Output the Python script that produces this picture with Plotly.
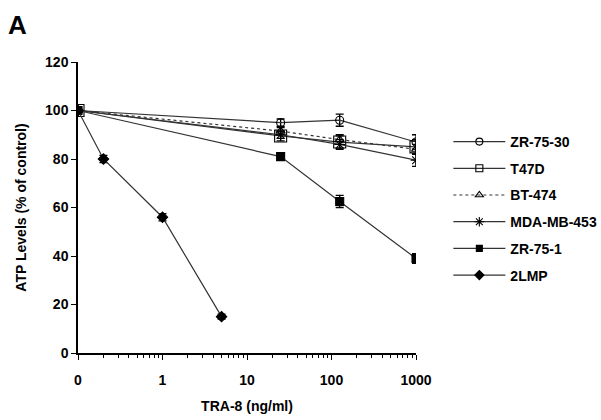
import plotly.graph_objects as go

# ---- data ----
ZERO_POS = 0.1  # where dose "0" is drawn on the log axis
doses = [0, 25, 125, 1000]
doses_2lmp = [0, 0.2, 1, 5]

series_names = ["ZR-75-30", "T47D", "BT-474", "MDA-MB-453", "ZR-75-1", "2LMP"]
zr7530 = [100, 95, 96, 87]
zr7530_err = [1, 1.5, 2.5, 3]
t47d = [100, 89.5, 87, 85]
t47d_err = [1.5, 2, 2.5, 3]
bt474 = [100, 91.5, 88, 84]
bt474_err = [1, 1.5, 2, 2]
mda453 = [100, 90, 86, 79.5]
mda453_err = [1, 1.5, 2, 2.5]
zr751 = [100, 81, 62.5, 39]
zr751_err = [1, 1.5, 2.5, 2]
lmp2 = [100, 80, 56, 15]
lmp2_err = [1, 1.5, 1.5, 1]

x_tick_vals = [0.1, 1, 10, 100, 1000]
x_tick_text = ["0", "1", "10", "100", "1000"]
y_tick_vals = [0, 20, 40, 60, 80, 100, 120]


def pos(xs):
    return [ZERO_POS if v == 0 else v for v in xs]


FONT = "Liberation Sans"
fig = go.Figure()

specs = [
    ("ZR-75-30", doses, zr7530, zr7530_err, "circle-open", 8, 7, "solid"),
    ("T47D", doses, t47d, t47d_err, "square-open", 12, 7, "solid"),
    ("BT-474", doses, bt474, bt474_err, "triangle-up-open", 8, 7, "dot"),
    ("MDA-MB-453", doses, mda453, mda453_err, "asterisk-open", 9, 8, "solid"),
    ("ZR-75-1", doses, zr751, zr751_err, "square", 8, 6, "solid"),
    ("2LMP", doses_2lmp, lmp2, lmp2_err, "diamond", 8, 7, "solid"),
]

for i, (name, xs, ys, es, sym, sz, lsz, dash) in enumerate(specs):
    fig.add_trace(go.Scatter(
        x=pos(xs), y=ys, name=name, mode="lines+markers",
        legendgroup=f"g{i}", showlegend=False,
        line=dict(color="#333333", width=1.2, dash=dash),
        marker=dict(symbol=sym, size=sz, color="black",
                    line=dict(color="black", width=1.1)),
        error_y=dict(type="data", array=es, visible=True, color="black",
                     thickness=1.3, width=4),
    ))
    # legend entry with smaller symbol
    fig.add_trace(go.Scatter(
        x=[None], y=[None], name=name, mode="lines+markers",
        legendgroup=f"g{i}", showlegend=True,
        line=dict(color="#333333", width=1.2, dash=dash),
        marker=dict(symbol=sym, size=lsz, color="black",
                    line=dict(color="black", width=1.1)),
    ))

fig.update_layout(
    width=601, height=420,
    margin=dict(l=78, r=185, t=62, b=67),
    paper_bgcolor="white", plot_bgcolor="white",
    font=dict(family=FONT, size=14, color="black"),
    showlegend=True,
    legend=dict(xref="container", yref="container", x=0.746, y=0.70,
                xanchor="left", yanchor="top",
                font=dict(family=FONT, size=14, color="black", weight="bold"),
                itemwidth=52, tracegroupgap=5.5, bgcolor="rgba(0,0,0,0)"),
    xaxis=dict(
        type="log", range=[-1, 3], showgrid=False, zeroline=False,
        showline=True, linecolor="black", linewidth=1.5, automargin=False,
        tickmode="array", tickvals=x_tick_vals, ticktext=x_tick_text,
        ticks="outside", ticklen=5, tickcolor="black", ticklabelstandoff=8,
        tickfont=dict(family=FONT, size=14, weight="bold"),
        minor=dict(ticks="outside", ticklen=3, tickcolor="black", showgrid=False,
                   tickmode="array",
                   tickvals=[m * 10 ** e for e in range(-1, 3) for m in range(2, 10)]),
        title=dict(text="TRA-8 (ng/ml)", font=dict(family=FONT, size=14, weight="bold")),
    ),
    yaxis=dict(
        range=[0, 120], showgrid=False, zeroline=False,
        showline=True, linecolor="black", linewidth=1.5, automargin=False,
        tickmode="array", tickvals=y_tick_vals,
        ticks="outside", ticklen=5, tickcolor="black",
        tickfont=dict(family=FONT, size=14, weight="bold"),
        title=dict(text="ATP Levels (% of control)",
                   font=dict(family=FONT, size=14, weight="bold")),
    ),
    annotations=[dict(text="<b>A</b>", x=0, y=1, xref="paper", yref="paper",
                      xanchor="left", yanchor="top", showarrow=False,
                      font=dict(family=FONT, size=26, color="black"),
                      xshift=-72, yshift=54)],
)

fig.write_html("out.html", config={"displayModeBar": False},
               post_script="document.body.style.margin='0';document.body.style.overflow='hidden';")
